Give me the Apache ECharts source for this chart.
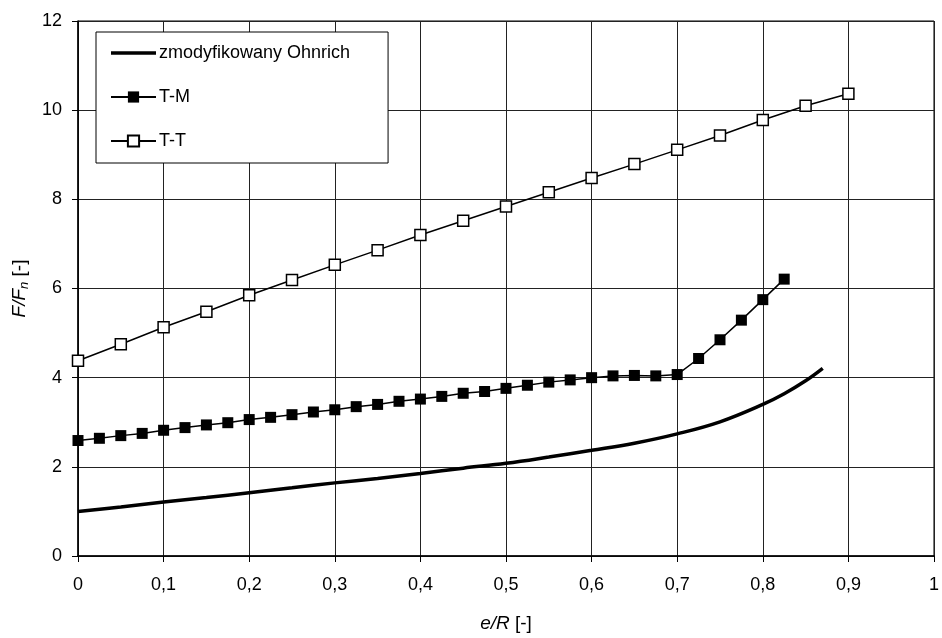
<!DOCTYPE html>
<html>
<head>
<meta charset="utf-8">
<script src="https://cdn.jsdelivr.net/npm/echarts@6/dist/echarts.min.js"></script>
<style>
  html, body { margin: 0; padding: 0; background: #fff; }
  #chart { width: 942px; height: 638px; }
</style>
</head>
<body>
<div id="chart"></div>
<script>
// Modified Ohnrich curve, e/R vs F/Fn
const ohnrichX = [0, 0.05, 0.1, 0.15, 0.2, 0.25, 0.3, 0.35, 0.4, 0.45, 0.5, 0.55, 0.6, 0.65, 0.7, 0.75, 0.8, 0.825, 0.85, 0.87];
const ohnrichY = [1.00, 1.10, 1.21, 1.31, 1.42, 1.53, 1.64, 1.74, 1.85, 1.97, 2.08, 2.22, 2.37, 2.53, 2.74, 3.01, 3.40, 3.64, 3.93, 4.21];

// T-M measurements (step 0.025)
const tmX = [0, 0.025, 0.05, 0.075, 0.1, 0.125, 0.15, 0.175, 0.2, 0.225, 0.25, 0.275, 0.3, 0.325, 0.35, 0.375, 0.4,
             0.425, 0.45, 0.475, 0.5, 0.525, 0.55, 0.575, 0.6, 0.625, 0.65, 0.675, 0.7, 0.725, 0.75, 0.775, 0.8, 0.825];
const tmY = [2.59, 2.64, 2.70, 2.75, 2.82, 2.88, 2.94, 2.99, 3.06, 3.11, 3.17, 3.23, 3.28, 3.35, 3.40, 3.47, 3.52,
             3.58, 3.65, 3.69, 3.76, 3.83, 3.90, 3.95, 4.00, 4.04, 4.05, 4.04, 4.07, 4.43, 4.85, 5.29, 5.75, 6.21];

// T-T measurements (step 0.05)
const ttX = [0, 0.05, 0.1, 0.15, 0.2, 0.25, 0.3, 0.35, 0.4, 0.45, 0.5, 0.55, 0.6, 0.65, 0.7, 0.75, 0.8, 0.85, 0.9];
const ttY = [4.38, 4.75, 5.13, 5.48, 5.85, 6.19, 6.53, 6.86, 7.20, 7.52, 7.84, 8.16, 8.48, 8.79, 9.11, 9.43, 9.78, 10.10, 10.37];

const seriesNames = ['zmodyfikowany Ohnrich', 'T-M', 'T-T'];

const zip = (xs, ys) => xs.map((x, i) => [x, ys[i]]);
const FONT = '"Liberation Sans", Arial, sans-serif';

// Thick plain line used as the legend icon of the smooth curve
// (zero-area sub-paths keep the icon's full 45x14 box so the stripe is not stretched)
const thickLineIcon = 'path://M0,0L45,0L45,0Z M0,5.2L45,5.2L45,8.8L0,8.8Z M0,14L45,14L45,14Z';

const chart = echarts.init(document.getElementById('chart'), null, { renderer: 'canvas' });

chart.setOption({
  animation: false,
  backgroundColor: '#ffffff',
  textStyle: { fontFamily: FONT, color: '#000' },
  grid: { left: 78, right: 6, top: 21, bottom: 81, show: true, borderColor: '#000', borderWidth: 1 },
  legend: {
    orient: 'vertical',
    left: 96,
    top: 32,
    data: [
      { name: seriesNames[0], icon: thickLineIcon, itemStyle: { color: '#000' } },
      { name: seriesNames[1] },
      { name: seriesNames[2] }
    ],
    itemWidth: 45,
    itemHeight: 14,
    itemGap: 24,
    padding: [11, 38, 12, 14],
    borderColor: '#000',
    borderWidth: 1,
    backgroundColor: '#fff',
    textStyle: { fontFamily: FONT, fontSize: 18, lineHeight: 20, color: '#000', padding: [0, 0, 0, -2] },
    selectedMode: false
  },
  xAxis: {
    type: 'value',
    min: 0,
    max: 1,
    interval: 0.1,
    name: '{i|e/R}{n| [-]}',
    nameLocation: 'middle',
    nameGap: 58,
    nameTextStyle: {
      rich: {
        i: { fontFamily: FONT, fontSize: 19, fontStyle: 'italic', color: '#000' },
        n: { fontFamily: FONT, fontSize: 19, color: '#000' }
      }
    },
    axisLine: { lineStyle: { color: '#000', width: 1.5 } },
    axisTick: { show: true, inside: false, length: 6, lineStyle: { color: '#000' } },
    axisLabel: {
      fontFamily: FONT, fontSize: 18, color: '#000', margin: 20,
      formatter: v => String(+v.toFixed(2)).replace('.', ',')
    },
    splitLine: { show: true, lineStyle: { color: '#222', width: 1 } }
  },
  yAxis: {
    type: 'value',
    min: 0,
    max: 12,
    interval: 2,
    name: '{i|F/F}{s|n}{n| [-]}',
    nameLocation: 'middle',
    nameGap: 46,
    nameTextStyle: {
      rich: {
        i: { fontFamily: FONT, fontSize: 19, fontStyle: 'italic', color: '#000', lineHeight: 22 },
        s: { fontFamily: FONT, fontSize: 13, fontStyle: 'italic', color: '#000', lineHeight: 22, verticalAlign: 'bottom', padding: [7, 0, 0, 0] },
        n: { fontFamily: FONT, fontSize: 19, color: '#000', lineHeight: 22 }
      }
    },
    axisLine: { show: true, lineStyle: { color: '#000', width: 1.5 } },
    axisTick: { show: true, inside: false, length: 6, lineStyle: { color: '#000' } },
    axisLabel: { fontFamily: FONT, fontSize: 18, color: '#000', margin: 16 },
    splitLine: { show: true, lineStyle: { color: '#222', width: 1 } }
  },
  series: [
    {
      name: seriesNames[0],
      type: 'line',
      data: zip(ohnrichX, ohnrichY),
      smooth: 0.4,
      showSymbol: false,
      symbol: 'none',
      lineStyle: { color: '#000', width: 3.5 },
      itemStyle: { color: '#000' },
      z: 3
    },
    {
      name: seriesNames[1],
      type: 'line',
      data: zip(tmX, tmY),
      symbol: 'rect',
      symbolSize: 11,
      lineStyle: { color: '#000', width: 1.5 },
      itemStyle: { color: '#000', borderColor: '#000', borderWidth: 0 },
      z: 4
    },
    {
      name: seriesNames[2],
      type: 'line',
      data: zip(ttX, ttY),
      symbol: 'rect',
      symbolSize: 11,
      lineStyle: { color: '#000', width: 1.5 },
      itemStyle: { color: '#fff', borderColor: '#000', borderWidth: 1.5 },
      z: 5
    }
  ]
});
</script>
</body>
</html>
